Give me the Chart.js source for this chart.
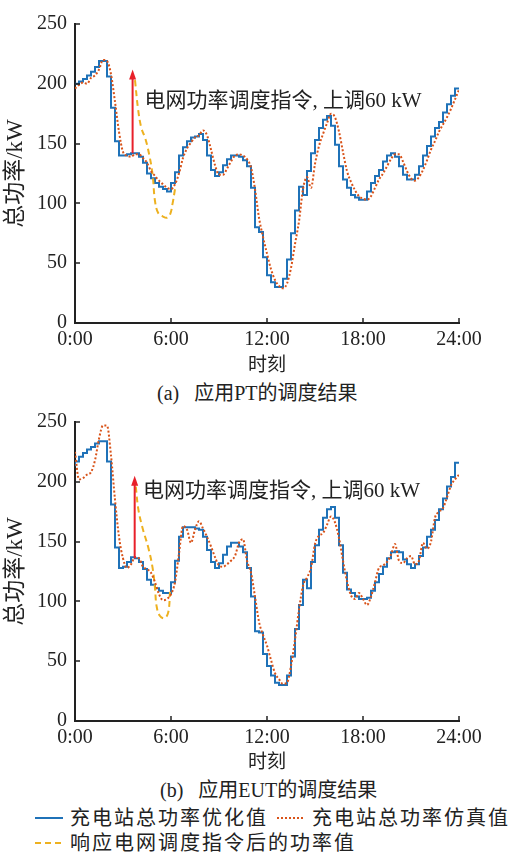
<!DOCTYPE html>
<html>
<head>
<meta charset="utf-8">
<script src="https://cdn.jsdelivr.net/npm/chart.js@4.4.1/dist/chart.umd.min.js"></script>
<style>
html, body { margin: 0; padding: 0; background: #fff; }
body { width: 511px; height: 855px; position: relative; overflow: hidden;
       font-family: "Liberation Serif", "Noto Sans CJK SC", serif; color: #222; }
.box { position: absolute; left: 0; width: 511px; height: 380px; }
.cap { position: absolute; font-size: 20px; line-height: 24px; white-space: pre; }
.leg { position: absolute; font-size: 20px; line-height: 24px; letter-spacing: 2px; white-space: nowrap; }
.sw { position: absolute; }
</style>
</head>
<body>
<div class="box" style="top:0"><canvas id="chartA" width="511" height="380"></canvas></div>
<div class="cap" style="left:157px;top:381px">(a)   应用PT的调度结果</div>
<div class="box" style="top:398px"><canvas id="chartB" width="511" height="380"></canvas></div>
<div class="cap" style="left:160px;top:778px">(b)   应用EUT的调度结果</div>

<svg class="sw" style="left:35px;top:816px" width="28" height="4"><line x1="0" y1="2" x2="28" y2="2" stroke="#1f72b8" stroke-width="2"/></svg>
<div class="leg" style="left:70px;top:806px">充电站总功率优化值</div>
<svg class="sw" style="left:277px;top:816px" width="28" height="4"><line x1="0" y1="2" x2="28" y2="2" stroke="#D95319" stroke-width="2" stroke-dasharray="2 2"/></svg>
<div class="leg" style="left:312px;top:806px">充电站总功率仿真值</div>
<svg class="sw" style="left:35px;top:841px" width="28" height="4"><line x1="0" y1="2" x2="28" y2="2" stroke="#EDB120" stroke-width="2" stroke-dasharray="6 4"/></svg>
<div class="leg" style="left:70px;top:831px">响应电网调度指令后的功率值</div>

<script>
// x tick labels (every 6 h)
const hourLabels = ['0:00', '6:00', '12:00', '18:00', '24:00'];

// (a) PT: optimized power, one value per 15 min step, last entry = value at 24:00
const optA = [
    199, 200, 202, 204, 207, 210, 214, 219,
    219, 206, 180, 152, 140, 140, 141, 142,
    142, 139, 134, 125, 121, 117, 114, 112,
    110, 117, 126, 140, 147, 152, 155, 156,
    158, 153, 140, 128, 123, 126, 132, 137,
    140, 140, 139, 136, 131, 113, 80, 76,
    55, 40, 34, 30, 30, 37, 53, 75,
    94, 114, 107, 127, 142, 153, 163, 170,
    173, 165, 149, 131, 120, 113, 107, 105,
    103, 103, 110, 117, 123, 128, 135, 140,
    142, 139, 131, 124, 120, 120, 124, 131,
    140, 148, 156, 163, 168, 176, 183, 190,
    196
];
// (a) simulated power, sampled every 15 min from 0:00 to 24:00
const simA = [
    196, 199, 201, 200, 205, 207, 212, 220,
    219, 208, 185, 160, 143, 140, 139, 141,
    141, 138, 134, 127, 123, 119, 116, 113,
    112, 116, 125, 138, 146, 151, 155, 157,
    161, 157, 145, 132, 124, 124, 129, 135,
    140, 141, 140, 137, 130, 112, 88, 72,
    58, 45, 36, 31, 29, 33, 46, 66,
    85, 112, 122, 113, 133, 148, 158, 167,
    175, 172, 160, 143, 127, 118, 111, 106,
    104, 103, 106, 113, 120, 125, 131, 137,
    141, 141, 135, 127, 121, 119, 122, 128,
    136, 145, 152, 160, 166, 172, 179, 187,
    195
];
// (a) power after responding to the grid command
const respTimeA = [3.75, 3.95, 4.15, 4.4, 4.65, 4.85, 5.0, 5.2, 5.5, 5.75, 5.95, 6.1, 6.25];
const respA = [203, 178, 163, 154, 140, 124, 102, 92, 89, 88, 91, 100, 112];

// (b) EUT
const optB = [
    213, 217, 221, 224, 227, 229, 232, 234,
    234, 217, 181, 145, 128, 129, 133, 137,
    136, 133, 127, 118, 114, 111, 109, 107,
    107, 116, 134, 154, 162, 162, 162, 161,
    160, 154, 143, 133, 128, 132, 139, 146,
    149, 149, 146, 141, 128, 104, 75, 74,
    56, 46, 38, 32, 30, 30, 38, 54,
    77, 97, 118, 111, 133, 147, 160, 170,
    177, 179, 170, 147, 124, 110, 107, 104,
    102, 102, 103, 109, 116, 123, 129, 136,
    141, 142, 141, 135, 131, 128, 131, 138,
    145, 154, 160, 168, 177, 186, 196, 204,
    216
];
const simB = [
    225, 202, 203, 206, 208, 218, 236, 247,
    247, 222, 185, 154, 136, 128, 131, 137,
    136, 129, 127, 124, 116, 106, 101, 102,
    106, 116, 140, 163, 160, 149, 160, 167,
    161, 154, 146, 137, 130, 129, 131, 134,
    138, 149, 152, 134, 124, 104, 83, 72,
    63, 51, 40, 35, 31, 32, 46, 68,
    93, 113, 120, 128, 148, 155, 157, 164,
    171, 166, 153, 134, 117, 105, 102, 107,
    102, 97, 104, 116, 128, 130, 133, 139,
    148, 134, 132, 136, 138, 131, 134, 149,
    144, 150, 170, 175, 178, 187, 197, 202,
    206
];
const respTimeB = [3.8, 3.96, 4.23, 4.58, 4.85, 5.0, 5.1, 5.3, 5.6, 5.83, 5.94];
const respB = [196, 177, 161, 145, 128, 111, 96, 88, 86, 91, 108];

// grid command arrow: [hour, from kW, to kW] and note anchor [hour, kW]
const arrowA = [3.6, 142, 212];
const arrowB = [3.73, 136, 205];
const noteA = [4.35, 185];
const noteB = [4.25, 192];
const noteText = '电网功率调度指令, 上调60 kW';

const FONT = '"Liberation Serif", "Noto Sans CJK SC", serif';
const INK = '#222';

const decor = {
    id: 'decor',
    afterDatasetsDraw(chart, args, opts) {
        const { ctx, chartArea, scales: { x, y } } = chart;
        ctx.save();
        // inward tick marks
        ctx.strokeStyle = INK;
        ctx.lineWidth = 1.5;
        x.ticks.forEach((t) => {
            const px = Math.round(x.getPixelForValue(t.value));
            ctx.beginPath();
            ctx.moveTo(px, chartArea.bottom);
            ctx.lineTo(px, chartArea.bottom - 5);
            ctx.stroke();
        });
        y.ticks.forEach((t) => {
            const py = Math.round(y.getPixelForValue(t.value));
            ctx.beginPath();
            ctx.moveTo(chartArea.left, py);
            ctx.lineTo(chartArea.left + 5, py);
            ctx.stroke();
        });
        // red command arrow
        const ax = x.getPixelForValue(opts.arrow[0]);
        const y0 = y.getPixelForValue(opts.arrow[1]);
        const y1 = y.getPixelForValue(opts.arrow[2]);
        ctx.strokeStyle = '#E8202A';
        ctx.fillStyle = '#E8202A';
        ctx.lineWidth = 2;
        ctx.beginPath();
        ctx.moveTo(ax, y0);
        ctx.lineTo(ax, y1 + 8);
        ctx.stroke();
        ctx.beginPath();
        ctx.moveTo(ax, y1);
        ctx.lineTo(ax - 3.5, y1 + 10);
        ctx.lineTo(ax + 3.5, y1 + 10);
        ctx.closePath();
        ctx.fill();
        // note
        ctx.fillStyle = INK;
        ctx.font = '21px ' + FONT;
        ctx.textBaseline = 'middle';
        ctx.textAlign = 'left';
        ctx.fillText(noteText, x.getPixelForValue(opts.note[0]), y.getPixelForValue(opts.note[1]));
        ctx.restore();
    },
};

function buildChart(canvasId, opt, sim, respT, resp, arrow, note, titlePad) {
    const optPts = opt.map((v, i) => ({ x: i * 0.25, y: v }));
    const simPts = sim.map((v, i) => ({ x: i * 0.25, y: v }));
    const respPts = resp.map((v, i) => ({ x: respT[i], y: v }));

    return new Chart(document.getElementById(canvasId), {
        type: 'line',
        data: {
            datasets: [
                {
                    label: '充电站总功率仿真值',
                    data: simPts,
                    borderColor: '#D95319',
                    borderWidth: 2,
                    borderDash: [2, 2],
                    cubicInterpolationMode: 'monotone',
                    pointRadius: 0,
                    order: 0,
                },
                {
                    label: '响应电网调度指令后的功率值',
                    data: respPts,
                    borderColor: '#EDB120',
                    borderWidth: 2,
                    borderDash: [6, 4],
                    tension: 0.4,
                    pointRadius: 0,
                    order: 1,
                },
                {
                    label: '充电站总功率优化值',
                    data: optPts,
                    borderColor: '#1f72b8',
                    borderWidth: 2,
                    stepped: 'after',
                    pointRadius: 0,
                    order: 2,
                },
            ],
        },
        options: {
            responsive: false,
            animation: false,
            devicePixelRatio: 1,
            layout: { padding: { top: 24, right: 52, bottom: 0, left: 0 } },
            plugins: {
                legend: { display: false },
                tooltip: { enabled: false },
                decor: { arrow, note },
            },
            scales: {
                x: {
                    type: 'linear',
                    min: 0,
                    max: 24,
                    border: { display: true, color: INK, width: 2 },
                    grid: { display: false, drawTicks: false },
                    ticks: {
                        stepSize: 6,
                        autoSkip: false,
                        maxRotation: 0,
                        padding: 5,
                        color: INK,
                        font: { family: FONT, size: 20 },
                        callback: (v) => hourLabels[v / 6],
                    },
                    title: {
                        display: true,
                        text: '时刻',
                        color: INK,
                        font: { family: FONT, size: 19 },
                        padding: { top: 0, bottom: titlePad },
                    },
                    afterFit(s) { s.height = 57; },
                },
                y: {
                    min: 0,
                    max: 250,
                    border: { display: true, color: INK, width: 2 },
                    grid: { display: false, drawTicks: false },
                    ticks: {
                        stepSize: 50,
                        padding: 8,
                        color: INK,
                        font: { family: FONT, size: 20 },
                    },
                    title: {
                        display: true,
                        text: '总功率/kW',
                        color: INK,
                        font: { family: FONT, size: 23 },
                        padding: { top: 2, bottom: 0 },
                    },
                    afterFit(s) { s.width = 75; },
                },
            },
        },
        plugins: [decor],
    });
}

buildChart('chartA', optA, simA, respTimeA, respA, arrowA, noteA, 3);
buildChart('chartB', optB, simB, respTimeB, respB, arrowB, noteB, 4);
</script>
</body>
</html>
